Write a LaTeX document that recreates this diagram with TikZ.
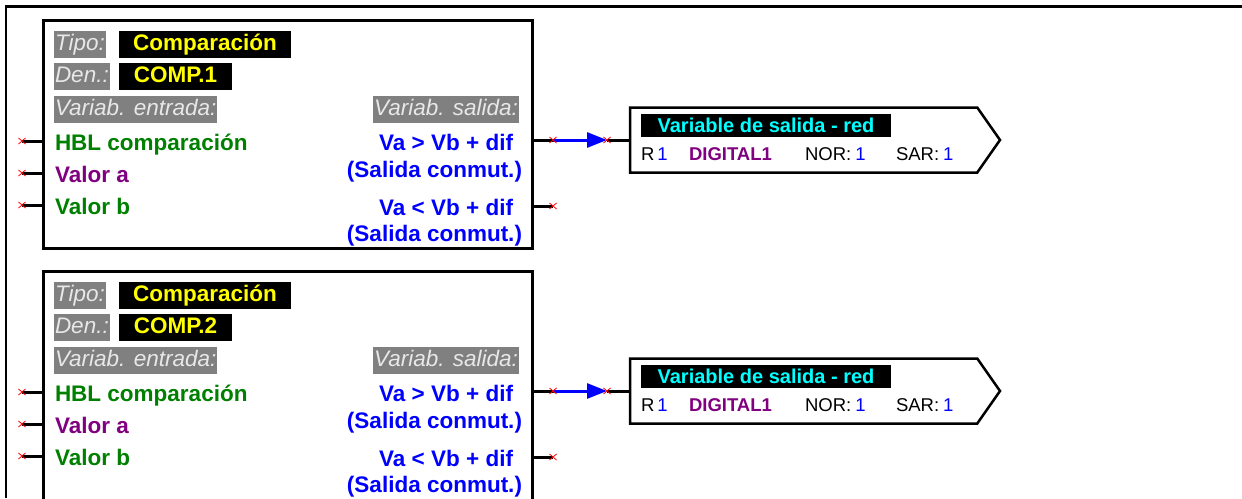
\documentclass[tikz,border=0pt]{standalone}
\usepackage{fontspec}
\setmainfont{Liberation Sans}
\usetikzlibrary{positioning, shapes.misc, shapes.symbols, arrows.meta}

\definecolor{verdehbl}{RGB}{0,128,0}
\definecolor{morado}{RGB}{128,0,128}
\definecolor{grisetq}{RGB}{128,128,128}
\definecolor{textoetq}{RGB}{232,232,232}
\definecolor{cian}{RGB}{0,255,255}
\definecolor{amarillo}{RGB}{255,255,0}

\begin{document}
\begin{tikzpicture}
	[x=1pt, y=-1pt, inner sep=0pt, outer sep=0pt,
	 block/.style={draw, line width=3pt, minimum width=489pt, minimum height=228pt},
	 etq/.style={fill=grisetq, text=textoetq, font=\fontsize{22.5}{26}\selectfont\itshape,
	   text height=16pt, text depth=5pt, inner xsep=1pt, inner ysep=3pt},
	 valor/.style={fill=black, text=amarillo, font=\fontsize{22.5}{26}\selectfont\bfseries,
	   text height=16pt, text depth=5pt, inner ysep=3pt},
	 ent/.style={font=\fontsize{22.5}{26}\selectfont\bfseries, anchor=base west},
	 sal/.style={font=\fontsize{22.5}{26}\selectfont\bfseries, text=blue, anchor=base east},
	 salida/.style={signal, signal to=east, signal pointer angle=110, draw, line width=2.5pt,
	   minimum width=370pt, minimum height=65pt},
	 nombre/.style={fill=black, text=cian, font=\fontsize{20}{22}\selectfont\bfseries,
	   minimum width=250pt, minimum height=23pt, anchor=north west},
	 dato/.style={font=\fontsize{18.5}{22}\selectfont, anchor=base west},
	 pin/.style={line width=3pt},
	 xmark/.style={cross out, draw=red, line width=0.8pt, minimum width=7pt, minimum height=6pt},
	 link/.style={draw=blue, line width=3pt, -{Triangle[length=20pt,width=15pt]}}]
   \useasboundingbox (0,0) rectangle (1242,498);
   \draw[line width=2.5pt] (6,498) -- (6,6.5) -- (1242,6.5);

   % first comparison
   \node[block] (comp_1) at (287.5,134) {};
   \node[etq, anchor=north west] (tipo_1) at (54,31) {Tipo:};
   \node[etq, below=5pt of tipo_1.south west, anchor=north west] (den_1) {Den.:};
   \node[etq, below=6pt of den_1.south west, anchor=north west] (vent_1) {Variab. entrada:};
   \node[valor, minimum width=172pt, anchor=north west] (tipov_1) at (119,31) {Comparación};
   \node[valor, minimum width=113pt, below=5pt of tipov_1.south west, anchor=north west] (denv_1) {COMP.1};
   \node[etq, anchor=north east] (vsal_1) at (519,96) {Variab. salida:};
   \node[ent, text=verdehbl] (hbl_1) at (55,150) {HBL comparación};
   \node[ent, text=morado] (va_1) at (55,182) {Valor a};
   \node[ent, text=verdehbl] (vb_1) at (55,214) {Valor b};
   \node[sal] (may_1) at (513,150) {Va > Vb + dif};
   \node[sal] (sc_1a) at (522,177) {(Salida conmut.)};
   \node[sal] (men_1) at (513,215) {Va < Vb + dif};
   \node[sal] (sc_1b) at (522,241) {(Salida conmut.)};

   \node[salida, anchor=west] (out_1) at (630,140) {};
   \node[nombre] (nom_1) at (641,114) {Variable de salida - red};
   \node[dato] (r_1) at (641,160) {R\hspace{3pt}\textcolor{blue}{1}};
   \node[dato, font=\fontsize{18.5}{22}\selectfont\bfseries, text=morado] (dig_1) at (689,160) {DIGITAL1};
   \node[dato] (nor_1) at (805,160) {NOR:\hspace{4pt}\textcolor{blue}{1}};
   \node[dato] (sar_1) at (896,160) {SAR:\hspace{4pt}\textcolor{blue}{1}};

   \coordinate (in_1a) at (22,141);
   \coordinate (in_1b) at (22,173);
   \coordinate (in_1c) at (22,205);
   \coordinate (o_1a) at (553,140);
   \coordinate (o_1b) at (553,206);
   \coordinate (p_1) at (607,140);

   % second comparison
   \node[block, minimum height=248pt] (comp_2) at (287.5,395) {};
   \node[etq, anchor=north west] (tipo_2) at (54,282) {Tipo:};
   \node[etq, below=5pt of tipo_2.south west, anchor=north west] (den_2) {Den.:};
   \node[etq, below=6pt of den_2.south west, anchor=north west] (vent_2) {Variab. entrada:};
   \node[valor, minimum width=172pt, anchor=north west] (tipov_2) at (119,282) {Comparación};
   \node[valor, minimum width=113pt, below=5pt of tipov_2.south west, anchor=north west] (denv_2) {COMP.2};
   \node[etq, anchor=north east] (vsal_2) at (519,347) {Variab. salida:};
   \node[ent, text=verdehbl] (hbl_2) at (55,401) {HBL comparación};
   \node[ent, text=morado] (va_2) at (55,433) {Valor a};
   \node[ent, text=verdehbl] (vb_2) at (55,465) {Valor b};
   \node[sal] (may_2) at (513,401) {Va > Vb + dif};
   \node[sal] (sc_2a) at (522,428) {(Salida conmut.)};
   \node[sal] (men_2) at (513,466) {Va < Vb + dif};
   \node[sal] (sc_2b) at (522,492) {(Salida conmut.)};

   \node[salida, anchor=west] (out_2) at (630,391) {};
   \node[nombre] (nom_2) at (641,365) {Variable de salida - red};
   \node[dato] (r_2) at (641,411) {R\hspace{3pt}\textcolor{blue}{1}};
   \node[dato, font=\fontsize{18.5}{22}\selectfont\bfseries, text=morado] (dig_2) at (689,411) {DIGITAL1};
   \node[dato] (nor_2) at (805,411) {NOR:\hspace{4pt}\textcolor{blue}{1}};
   \node[dato] (sar_2) at (896,411) {SAR:\hspace{4pt}\textcolor{blue}{1}};

   \coordinate (in_2a) at (22,392);
   \coordinate (in_2b) at (22,424);
   \coordinate (in_2c) at (22,456);
   \coordinate (o_2a) at (553,391);
   \coordinate (o_2b) at (553,457);
   \coordinate (p_2) at (607,391);

   % pins and links
   \draw[pin] (in_1a) -- (in_1a -| comp_1.west);
   \draw[pin] (in_1b) -- (in_1b -| comp_1.west);
   \draw[pin] (in_1c) -- (in_1c -| comp_1.west);
   \draw[pin] (o_1a -| comp_1.east) -- (o_1a);
   \draw[pin] (o_1b -| comp_1.east) -- (o_1b);
   \draw[pin] (p_1) -- (out_1.west);
   \draw[pin] (in_2a) -- (in_2a -| comp_2.west);
   \draw[pin] (in_2b) -- (in_2b -| comp_2.west);
   \draw[pin] (in_2c) -- (in_2c -| comp_2.west);
   \draw[pin] (o_2a -| comp_2.east) -- (o_2a);
   \draw[pin] (o_2b -| comp_2.east) -- (o_2b);
   \draw[pin] (p_2) -- (out_2.west);
   \draw[link] (o_1a) -- (p_1);
   \draw[link] (o_2a) -- (p_2);

   \path (in_1a) node[xmark] (x_in_1a) {}
         (in_1b) node[xmark] (x_in_1b) {}
         (in_1c) node[xmark] (x_in_1c) {}
         (o_1a) node[xmark] (x_o_1a) {}
         (o_1b) node[xmark] (x_o_1b) {}
         (p_1) node[xmark] (x_p_1) {}
         (in_2a) node[xmark] (x_in_2a) {}
         (in_2b) node[xmark] (x_in_2b) {}
         (in_2c) node[xmark] (x_in_2c) {}
         (o_2a) node[xmark] (x_o_2a) {}
         (o_2b) node[xmark] (x_o_2b) {}
         (p_2) node[xmark] (x_p_2) {};
\end{tikzpicture}
\end{document}
